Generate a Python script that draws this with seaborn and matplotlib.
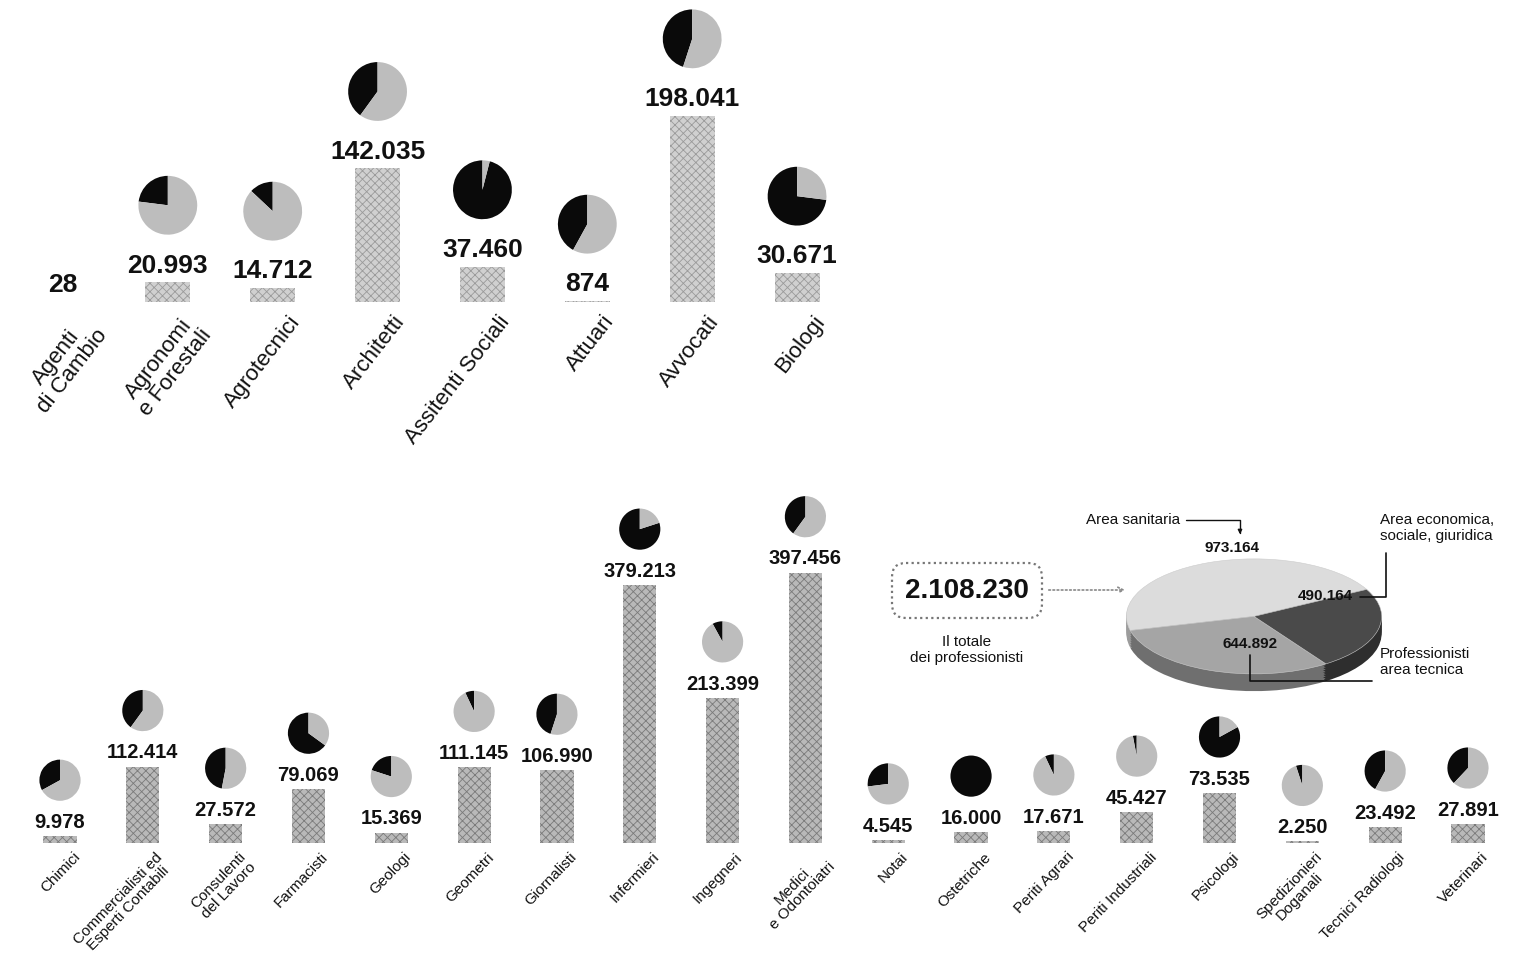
import numpy as np
import matplotlib
matplotlib.use("Agg")
import matplotlib.pyplot as plt
import seaborn as sns
from matplotlib.patches import FancyBboxPatch
from matplotlib.lines import Line2D

# ---------------- data ----------------
top_categories = ["Agenti\ndi Cambio", "Agronomi\ne Forestali", "Agrotecnici", "Architetti",
                  "Assitenti Sociali", "Attuari", "Avvocati", "Biologi"]
top_values = [28, 20993, 14712, 142035, 37460, 874, 198041, 30671]
top_women_share = [np.nan, 0.23, 0.13, 0.40, 0.96, 0.42, 0.45, 0.73]

bottom_categories = ["Chimici", "Commercialisti ed\nEsperti Contabili", "Consulenti\ndel Lavoro",
                     "Farmacisti", "Geologi", "Geometri", "Giornalisti", "Infermieri", "Ingegneri",
                     "Medici\ne Odontoiatri", "Notai", "Ostetriche", "Periti Agrari",
                     "Periti Industriali", "Psicologi", "Spedizionieri\nDoganali",
                     "Tecnici Radiologi", "Veterinari"]
bottom_values = [9978, 112414, 27572, 79069, 15369, 111145, 106990, 379213, 213399, 397456,
                 4545, 16000, 17671, 45427, 73535, 2250, 23492, 27891]
bottom_women_share = [0.33, 0.40, 0.47, 0.65, 0.20, 0.07, 0.45, 0.80, 0.08, 0.40,
                      0.27, 1.00, 0.07, 0.03, 0.83, 0.05, 0.42, 0.38]

area_names = ["Area sanitaria", "Professionisti area tecnica", "Area economica, sociale, giuridica"]
area_values = [973164, 644892, 490164]
total_professionals = 2108230

# ---------------- style ----------------
sns.set_style("white")
plt.rcParams["font.family"] = ["Liberation Sans", "DejaVu Sans"]
plt.rcParams["hatch.linewidth"] = 0.6

W, H = 1521, 961
fig = plt.figure(figsize=(W / 100, H / 100), dpi=100)
fig.patch.set_facecolor("white")


def it_fmt(v):
    return f"{v:,}".replace(",", ".")


def px_axes(left, top, width, height, **kw):
    """axes rect from pixel box (top-left origin)"""
    return fig.add_axes([left / W, (H - top - height) / H, width / W, height / H], **kw)


def draw_panel(ax, cats, vals, shares, bar_w, bar_color, hatch_color, val_fs, val_pad,
               cat_fs, rot, lab_dx, lab_dy, pie_r, pie_off):
    sns.barplot(x=list(range(len(cats))), y=vals, ax=ax, color=bar_color, width=bar_w,
                saturation=1, edgecolor=hatch_color, linewidth=0)
    for p in ax.patches:
        p.set_hatch("xxxx")
    ax.set_xlim(-0.5, len(cats) - 0.5)
    ax.axis("off")
    for i, (c, v) in enumerate(zip(cats, vals)):
        ax.annotate(it_fmt(v), xy=(i, v), xytext=(0, val_pad), textcoords="offset points",
                    ha="center", va="baseline", fontsize=val_fs, fontweight="bold",
                    color="#111111")
        ax.annotate(c, xy=(i, 0), xytext=(lab_dx, lab_dy), textcoords="offset points",
                    ha="right", va="top", rotation=rot, rotation_mode="anchor",
                    multialignment="center", fontsize=cat_fs, color="#111111",
                    linespacing=1.02, annotation_clip=False)
    # pies with share of women
    for i, (v, s) in enumerate(zip(vals, shares)):
        if np.isnan(s):
            continue
        x_d, y_d = ax.transData.transform((i, v))
        cy = y_d + pie_off
        pax = fig.add_axes([(x_d - pie_r) / W, (cy - pie_r) / H, 2 * pie_r / W, 2 * pie_r / H])
        pax.pie([s, 1 - s], colors=["#0a0a0a", "#bdbdbd"], startangle=90, counterclock=True,
                wedgeprops=dict(linewidth=0))
        pax.set_xlim(-1.02, 1.02)
        pax.set_ylim(-1.02, 1.02)
        pax.set_aspect("equal")
        pax.axis("off")


# top panel: baseline at y=302 px, 0.94 px per 1000
ax_top = px_axes(10.5, 0, 839, 302)
ax_top.set_ylim(0, 302 / 0.94 * 1000)
draw_panel(ax_top, top_categories, top_values, top_women_share, 0.43, "#d0d0d0", "#9a9a9a",
           19, 7, 16, 52, 11, -7, 30, 77)
ax_top.set_ylim(0, 302 / 0.94 * 1000)

# bottom panel: baseline at y=843 px, 0.68 px per 1000
ax_bot = px_axes(18.6, 540, 1490.8, 303)
ax_bot.set_ylim(0, 303 / 0.68 * 1000)
draw_panel(ax_bot, bottom_categories, bottom_values, bottom_women_share, 0.40, "#b9b9b9",
           "#7a7a7a", 14.5, 6, 11, 46, 9, -5, 21, 56)
ax_bot.set_ylim(0, 303 / 0.68 * 1000)

# ---------------- total infographic ----------------
# 3D-looking pie (squashed) of the three areas
pie3 = px_axes(1120, 556, 268, 138)
top_cols = ["#dcdcdc", "#a5a5a5", "#4a4a4a"]
side_cols = ["#9c9c9c", "#6f6f6f", "#2e2e2e"]
for k in np.linspace(-0.30, -0.02, 8):
    pie3.pie(area_values, colors=side_cols, startangle=28, counterclock=True, center=(0, k),
             wedgeprops=dict(linewidth=0))
pie3.pie(area_values, colors=top_cols, startangle=28, counterclock=True,
         wedgeprops=dict(linewidth=0.4, edgecolor="#cccccc"))
pie3.set_aspect("auto")
pie3.set_xlim(-1.05, 1.05)
pie3.set_ylim(-1.35, 1.05)
pie3.axis("off")

ov = fig.add_axes([0, 0, 1, 1], zorder=5)
ov.set_xlim(0, W)
ov.set_ylim(H, 0)
ov.axis("off")
ov.patch.set_alpha(0)

box = FancyBboxPatch((892, 563), 150, 55, boxstyle="round,pad=0,rounding_size=14",
                     ls=(0, (1, 1.5)), ec="#777777", fc="white", lw=1.6)
ov.add_patch(box)
ov.text(967, 591, it_fmt(total_professionals), ha="center", va="center", fontsize=20,
        fontweight="bold", color="#111111")
ov.text(967, 650, "Il totale\ndei professionisti", ha="center", va="center", fontsize=11,
        linespacing=1.2, color="#111111")
ov.annotate("", xy=(1128, 590), xytext=(1046, 590),
            arrowprops=dict(arrowstyle="->", ls=(0, (1, 1.5)), color="#888888", lw=1.2))

ov.text(1232, 548, it_fmt(area_values[0]), ha="center", va="center", fontsize=11,
        fontweight="bold", color="#111111")
ov.text(1325, 596, it_fmt(area_values[2]), ha="center", va="center", fontsize=11,
        fontweight="bold", color="#111111")
ov.text(1250, 644, it_fmt(area_values[1]), ha="center", va="center", fontsize=11,
        fontweight="bold", color="#111111")

ov.text(1180, 520, "Area sanitaria", ha="right", va="center", fontsize=11, color="#111111")
ov.add_line(Line2D([1186, 1240, 1240], [520, 520, 533], color="#111111", lw=1))
ov.annotate("", xy=(1240, 537), xytext=(1240, 528),
            arrowprops=dict(arrowstyle="-|>", color="#111111", lw=1, mutation_scale=6))
ov.text(1380, 528, "Area economica,\nsociale, giuridica", ha="left", va="center", fontsize=11,
        linespacing=1.25, color="#111111")
ov.add_line(Line2D([1360, 1386, 1386], [597, 597, 553], color="#111111", lw=1.2))
ov.text(1380, 662, "Professionisti\narea tecnica", ha="left", va="center", fontsize=11,
        linespacing=1.25, color="#111111")
ov.add_line(Line2D([1250, 1250, 1372], [655, 681, 681], color="#111111", lw=1.2))

fig.savefig("out.png", dpi=100, facecolor="white")
